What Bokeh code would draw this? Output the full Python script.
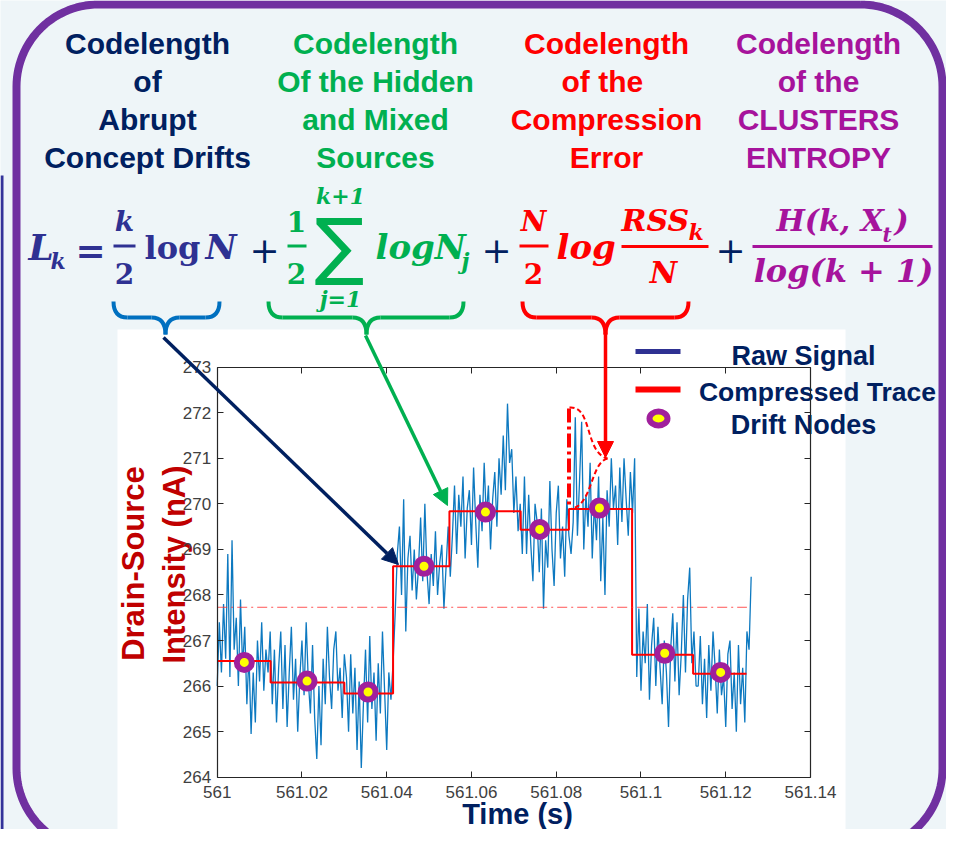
import numpy as np
from bokeh.plotting import figure
from bokeh.models import Range1d, LinearAxis, FixedTicker, Arrow, NormalHead, PrintfTickFormatter
from bokeh.core.properties import value
from bokeh.embed import file_html
from bokeh.resources import INLINE

# ---------------- data ----------------
x_ticks = [561.0, 561.02, 561.04, 561.06, 561.08, 561.1, 561.12, 561.14]
x_tick_labels = ["561", "561.02", "561.04", "561.06", "561.08", "561.1", "561.12", "561.14"]
y_ticks = [264, 265, 266, 267, 268, 269, 270, 271, 272, 273]

seg_start = [561.0, 561.0126, 561.0300, 561.0415, 561.0548, 561.0716, 561.0830, 561.0979, 561.1123]
seg_end = [561.0126, 561.0300, 561.0415, 561.0548, 561.0716, 561.0830, 561.0979, 561.1123, 561.1249]
seg_level = [266.55, 266.08, 265.84, 268.63, 269.84, 269.43, 269.89, 266.69, 266.27]

node_t = [561.0064, 561.0212, 561.0356, 561.0488, 561.0633, 561.0761, 561.0902, 561.1056, 561.1188]
node_v = [266.52, 266.11, 265.87, 268.63, 269.82, 269.44, 269.91, 266.72, 266.30]

mean_level = 267.73
mean_span = [561.0, 561.125]

raw_t0 = 561.0
raw_dt = 0.0005
raw_signal = [
    # 561.000 - 561.0125
    266.0, 267.4, 266.3, 267.8, 266.6, 268.9, 266.2, 269.2, 266.8, 267.5, 266.0, 267.9, 266.4,
    267.3, 265.6, 266.7, 264.95, 266.3, 265.2, 267.0, 266.1, 267.4, 265.9, 266.8, 266.3, 267.2,
    # 561.0125 - 561.030
    265.6, 266.8, 265.2, 266.4, 267.2, 265.5, 266.9, 265.1, 266.3, 267.3, 265.7, 266.6, 265.0,
    266.2, 267.0, 265.8, 267.4, 266.1, 265.4, 266.9, 265.3, 264.4, 266.0, 264.7, 266.6, 265.6,
    267.3, 266.2, 265.5, 266.8, 267.2, 265.9, 266.4, 265.3, 266.7,
    # 561.030 - 561.0415
    266.2, 265.0, 266.7, 265.4, 266.4, 264.6, 266.1, 264.2, 265.6, 266.8, 265.2, 267.1, 265.5,
    266.3, 264.8, 266.5, 265.4, 267.2, 265.9, 264.6, 266.3, 265.7, 266.5,
    # 561.0415 - 561.055
    267.6, 268.9, 269.5, 268.0, 270.1, 267.2, 268.8, 269.3, 268.1, 269.0, 267.9, 268.6, 269.7,
    268.3, 270.0, 268.5, 267.8, 268.9, 268.2, 269.4, 268.0, 268.7, 269.1, 267.7, 268.6, 269.5, 268.4,
    # 561.055 - 561.072
    269.3, 270.4, 268.9, 270.2, 269.5, 270.6, 268.8, 269.9, 270.3, 269.1, 270.8, 269.6, 268.6,
    270.2, 269.4, 270.9, 269.7, 270.4, 269.0, 270.1, 270.7, 269.5, 271.0, 270.2, 271.5, 270.3,
    272.2, 270.9, 271.2, 269.8, 270.6, 269.4, 270.0, 268.9,
    # 561.072 - 561.083
    270.6, 268.9, 270.2, 269.1, 268.3, 270.0, 269.6, 268.5, 269.9, 267.7, 269.2, 268.6, 270.5,
    269.0, 268.2, 269.8, 270.4, 268.8, 269.5, 268.4, 270.1, 269.3, 268.9,
    # 561.083 - 561.098
    269.6, 271.9, 269.3, 270.5, 271.8, 269.0, 270.2, 269.5, 270.9, 268.8, 270.0, 269.2, 270.6,
    268.3, 269.7, 268.0, 270.3, 269.5, 271.0, 269.9, 270.4, 269.1, 270.8, 269.6, 271.0, 270.1,
    269.3, 270.7, 269.8, 271.0,
    # 561.098 - 561.1125
    266.2, 267.7, 265.9, 267.2, 266.5, 267.8, 265.7, 266.9, 267.5, 266.0, 267.3, 266.4, 265.6,
    267.0, 266.3, 265.1, 266.8, 267.6, 266.1, 267.4, 265.8, 266.7, 268.0, 266.3, 267.9, 268.6,
    266.5, 267.2, 266.0,
    # 561.1125 - 561.125
    266.0, 267.1, 265.6, 266.6, 265.3, 266.9, 265.9, 267.2, 266.4, 265.4, 266.8, 265.8, 266.2,
    265.1, 266.7, 267.0, 265.5, 266.3, 265.0, 266.9, 265.6, 266.4, 265.2, 267.2, 266.8, 268.4,
]

header_cols = [
    ["Codelength", "of", "Abrupt", "Concept Drifts"],
    ["Codelength", "Of the Hidden", "and Mixed", "Sources"],
    ["Codelength", "of  the", "Compression", "Error"],
    ["Codelength", "of the", "CLUSTERS", "ENTROPY"],
]
legend_labels = ["Raw Signal", "Compressed Trace", "Drift Nodes"]
x_title = "Time (s)"
y_title = ["Drain-Source", "Intensity (nA)"]

# ---------------- styles ----------------
BG = "#eef5f8"
NAVY = "#002060"
GREEN = "#00b050"
RED = "#ff0000"
MAGENTA = "#a6139c"
EQ_BLUE = "#2e3192"
BRACE_BLUE = "#0070c0"
PURPLE = "#7030a0"
DARKRED = "#c00000"
SIGNAL = "#0072bd"
RING = "#a0209c"
AXC = "#262626"
header_colors = [NAVY, GREEN, RED, MAGENTA]
header_x = [147, 375, 606, 818]
header_base = [54, 92, 130, 168]

# ---------------- layout: reference pixel frame ----------------
W, H = 946, 829
OX, OY = 0, 0
PX_L, PX_R, PX_T, PX_B = 216.7, 810.0, 366.7, 776.7
X_MIN, X_MAX, Y_MIN, Y_MAX = 561.0, 561.14, 264.0, 273.0
sx = (X_MAX - X_MIN) / (PX_R - PX_L)
sy = (Y_MAX - Y_MIN) / (PX_B - PX_T)

p = figure(width=W, height=H,
           x_range=Range1d(X_MIN - (PX_L - OX) * sx, X_MAX + (OX + W - PX_R) * sx),
           y_range=Range1d(Y_MIN - (OY + H - PX_B) * sy, Y_MAX + (PX_T - OY) * sy),
           output_backend="svg", toolbar_location=None,
           x_axis_location=None, y_axis_location=None, min_border=0,
           background_fill_color=BG, border_fill_color=BG, outline_line_color=None)
p.title.visible = False
p.grid.visible = False
p.extra_x_ranges = {"px": Range1d(OX, OX + W)}
p.extra_y_ranges = {"px": Range1d(OY + H, OY)}
PX = dict(x_range_name="px", y_range_name="px")

# white MATLAB figure area
p.quad(left=[117], right=[845], top=[329], bottom=[832], fill_color="white",
       line_color=None, level="underlay", **PX)

# neighbouring slide edge on the far left
p.segment(x0=[1.5], y0=[175], x1=[1.5], y1=[829], line_color="#333399", line_width=3, **PX)

# purple rounded frame
def rounded_path(l, t, r, b, rad, n=30):
    xs, ys = [], []
    for cx, cy, a0, a1 in [(r - rad, t + rad, -90, 0), (r - rad, b - rad, 0, 90),
                           (l + rad, b - rad, 90, 180), (l + rad, t + rad, 180, 270)]:
        a = np.radians(np.linspace(a0, a1, n))
        xs += list(cx + rad * np.cos(a))
        ys += list(cy + rad * np.sin(a))
    xs.append(xs[0]); ys.append(ys[0])
    return xs, ys

fx, fy = rounded_path(16, 4, 942, 850, 82)
p.line(fx, fy, line_color=PURPLE, line_width=8, **PX)

# ---------------- helpers ----------------
def T(x, y, s, size, color, style="bold", font="DejaVu Serif", align="left",
      baseline="alphabetic", angle=0.0):
    # y is given as the alphabetic baseline; draw with a middle anchor
    if baseline == "alphabetic":
        y = y - 0.36 * size
        baseline = "middle"
    p.text(x=[x], y=[y], text=[s], text_font=value(font), text_font_size=f"{size}px",
           text_font_style=style, text_color=color, text_align=align,
           text_baseline=baseline, angle=angle, **PX)

def bar(x0, x1, y, color, w=3):
    p.segment(x0=[x0], y0=[y], x1=[x1], y1=[y], line_color=color, line_width=w, **PX)

def brace(xl, xr, xm, color, yt=301, ym=317, yb=334, r=14, w=4):
    kw = dict(line_color=color, line_width=w, **PX)
    p.quadratic(x0=[xl, xm - r, xm + r, xr - r], y0=[yt, ym, ym, ym],
                x1=[xl + r, xm, xm, xr], y1=[ym, yb, yb, yt],
                cx=[xl, xm, xm, xr], cy=[ym, ym, ym, ym], **kw)
    p.segment(x0=[xl + r, xm + r], y0=[ym, ym], x1=[xm - r, xr - r], y1=[ym, ym], **kw)

# ---------------- headers ----------------
for col, color, cx in zip(header_cols, header_colors, header_x):
    for line, yb in zip(col, header_base):
        T(cx, yb, line, 30, color, font="Liberation Sans", align="center")

# ---------------- equation ----------------
BI = "bold italic"
T(28, 259, "L", 36, EQ_BLUE, BI)
T(50, 268, "k", 22, EQ_BLUE, BI)
T(90, 262, "=", 36, EQ_BLUE, "bold", align="center")
T(124, 231, "k", 28, EQ_BLUE, BI, align="center")
bar(113, 135, 245.5, EQ_BLUE)
T(124, 283, "2", 28, EQ_BLUE, "bold", align="center")
T(144, 259, "log", 32, EQ_BLUE, "bold")
T(205, 259, "N", 34, EQ_BLUE, BI)

T(264, 262, "+", 36, NAVY, "normal", align="center")
T(296, 231, "1", 28, GREEN, "bold", align="center")
bar(287, 306, 245.5, GREEN)
T(296, 283, "2", 28, GREEN, "bold", align="center")
T(339, 244, "\u2211", 74, GREEN, "normal", font="DejaVu Sans", align="center",
  baseline="middle")
T(340, 203, "k+1", 22, GREEN, BI, align="center")
T(340, 306, "j=1", 22, GREEN, BI, align="center")
T(375, 259, "logN", 34, GREEN, BI)
T(461, 268, "j", 22, GREEN, BI)

T(496, 262, "+", 36, NAVY, "normal", align="center")
T(533, 231, "N", 28, RED, BI, align="center")
bar(519, 548, 245.5, RED)
T(533, 283, "2", 28, RED, "bold", align="center")
T(556, 259, "log", 34, RED, BI)
T(621, 231, "RSS", 30, RED, BI)
T(688, 239, "k", 22, RED, BI)
bar(621, 708, 246, RED)
T(663, 283, "N", 30, RED, BI, align="center")

T(730, 262, "+", 36, NAVY, "normal", align="center")
T(776, 231, "H(k, X", 30, MAGENTA, BI)
T(882, 242, "t", 20, MAGENTA, BI)
T(894, 231, ")", 30, MAGENTA, BI)
bar(752, 932, 246, MAGENTA)
T(843, 282, "log(k + 1)", 32, MAGENTA, BI, align="center")

# braces
brace(113, 219, 165, BRACE_BLUE)
brace(268, 463, 366, GREEN)
brace(522, 688, 605, RED)

# ---------------- chart data ----------------
raw_t = raw_t0 + raw_dt * np.arange(len(raw_signal))
p.line(raw_t, raw_signal, line_color=SIGNAL, line_width=1.3, line_alpha=0.95)

step_x, step_y = [], []
for s, e, lv in zip(seg_start, seg_end, seg_level):
    step_x += [s, e]
    step_y += [lv, lv]
p.line(step_x, step_y, line_color=RED, line_width=2)

p.line(mean_span, [mean_level, mean_level], line_color="#ff2a2a", line_width=1,
       line_dash="10 4 2 4", line_alpha=0.8)

p.scatter(node_t, node_v, size=15, marker="circle", fill_color="#ffff00",
          line_color=RING, line_width=6)

# ---------------- axes (MATLAB box) ----------------
def mk_axis(loc, bounds, ticks, labels=True, **extra):
    ax = LinearAxis(fixed_location=loc, bounds=bounds, ticker=FixedTicker(ticks=ticks),
                    major_tick_in=6, major_tick_out=0, minor_tick_line_color=None,
                    axis_line_color=AXC, major_tick_line_color=AXC, axis_line_width=1.2,
                    major_label_text_font="Liberation Sans",
                    major_label_text_font_size="17px", major_label_text_color="#404040",
                    **extra)
    if not labels:
        ax.major_label_text_color = None
    return ax

xb = mk_axis(Y_MIN, (X_MIN, X_MAX), x_ticks, formatter=PrintfTickFormatter(format="%g"),
             major_label_overrides={t: s for t, s in zip(x_ticks, x_tick_labels)},
             major_label_standoff=9)
p.add_layout(xb, "below")
yl = mk_axis(X_MIN, (Y_MIN, Y_MAX), y_ticks, major_label_standoff=6)
p.add_layout(yl, "left")
p.add_layout(mk_axis(Y_MAX, (X_MIN, X_MAX), x_ticks, labels=False), "above")
p.add_layout(mk_axis(X_MAX, (Y_MIN, Y_MAX), y_ticks, labels=False), "right")

# axis titles
T(133, 563, y_title[0], 31, DARKRED, font="Liberation Sans", align="center",
  baseline="middle", angle=np.pi / 2)
T(174, 564, y_title[1], 31, DARKRED, font="Liberation Sans", align="center",
  baseline="middle", angle=np.pi / 2)
T(517, 824, x_title, 29, NAVY, font="Liberation Sans", align="center")

# ---------------- red dashed annotation ----------------
p.segment(x0=[568.5], y0=[408], x1=[568.5], y1=[507], line_color=RED, line_width=4,
          line_dash="14 4 3 4", **PX)
p.bezier(x0=[569, 607], y0=[407, 458], x1=[607, 571], y1=[458, 508],
         cx0=[592, 590], cy0=[405, 462], cx1=[584, 592], cy1=[452, 505],
         line_color=RED, line_width=2, line_dash="5 3", **PX)

# ---------------- arrows ----------------
for (xs_, ys_, xe_, ye_, c) in [(163, 337, 398, 564, NAVY), (365, 335, 447, 505, GREEN),
                                (605, 333, 605, 457, RED)]:
    p.add_layout(Arrow(end=NormalHead(size=16, fill_color=c, line_color=c),
                       x_start=xs_, y_start=ys_, x_end=xe_, y_end=ye_,
                       line_color=c, line_width=3.5, **PX))

# ---------------- legend ----------------
p.segment(x0=[635], y0=[351], x1=[680], y1=[351], line_color=EQ_BLUE, line_width=5, **PX)
p.segment(x0=[635], y0=[389], x1=[680], y1=[389], line_color=RED, line_width=6, **PX)
p.ellipse(x=[658], y=[418], width=18, height=14, fill_color="#ffff00", line_color=RING,
          line_width=6, **PX)
T(803, 365, legend_labels[0], 27, NAVY, font="Liberation Sans", align="center")
T(817, 401, legend_labels[1], 26.5, NAVY, font="Liberation Sans", align="center")
T(803, 434, legend_labels[2], 27, NAVY, font="Liberation Sans", align="center")

open("out.html", "w").write(file_html(p, INLINE))
